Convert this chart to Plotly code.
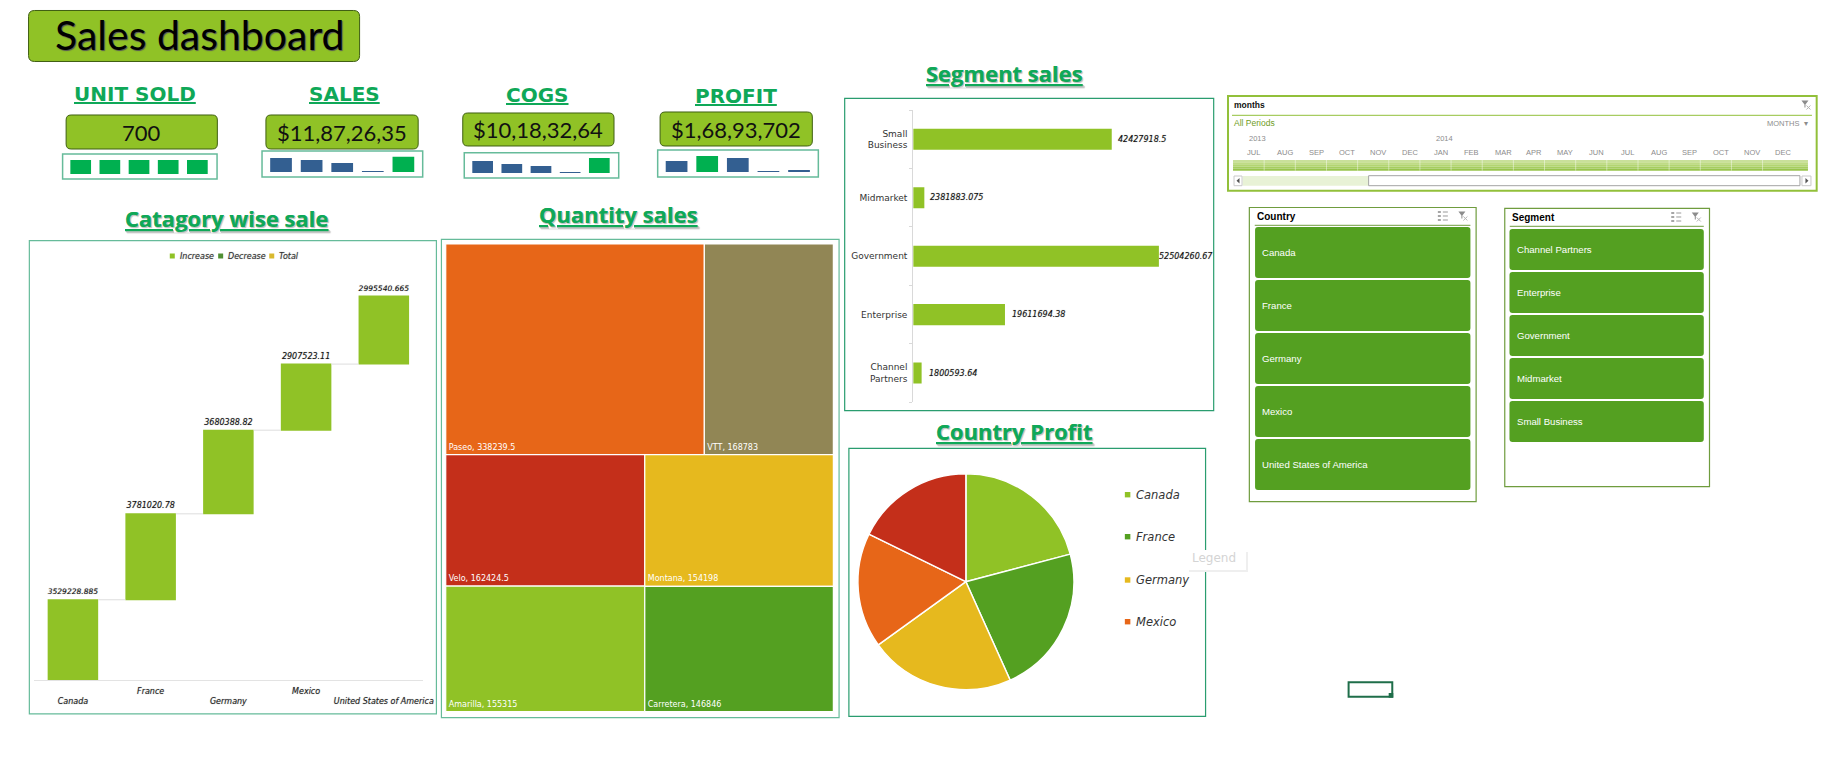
import plotly.graph_objects as go

W, H = 1844, 773
SX = 1830  # horizontal extent of the paper as it lands in the photographed page

# ---- data ----
COUNTRIES = ["Canada", "France", "Germany", "Mexico", "United States of America"]
COUNTRY_TICKS = ["<br>Canada", "France", "<br>Germany", "Mexico", "<br>United States of America"]
COUNTRY_SALES = [3529228.885, 3781020.78, 3680388.82, 2907523.11, 2995540.665]

SEGMENTS = ["Small Business", "Midmarket", "Government", "Enterprise", "Channel Partners"]
SEGMENT_TICKS = ["Small<br>Business", "Midmarket", "Government", "Enterprise", "Channel<br>Partners"]
SEGMENT_SALES = [42427918.5, 2381883.075, 52504260.67, 19611694.38, 1800593.64]
SEGMENT_SLICER = ["Channel Partners", "Enterprise", "Government", "Midmarket", "Small Business"]

PRODUCTS = ["Paseo", "VTT", "Velo", "Amarilla", "Montana", "Carretera"]
PRODUCT_UNITS = [338239.5, 168783, 162424.5, 155315, 154198, 146846]

KPI_TITLES = ["UNIT SOLD", "SALES", "COGS", "PROFIT"]
KPI_VALUES = ["700", "$11,87,26,35", "$10,18,32,64", "$1,68,93,702"]
MINI_UNITS = [42, 42, 42, 42, 42]
MINI_SALES = [42, 36, 27, 2, 46]
MINI_COGS = [36, 27, 21, 3, 45]
MINI_PROFIT = [33, 48, 42, 3, 6]

MONTHS = ["JUL", "AUG", "SEP", "OCT", "NOV", "DEC", "JAN", "FEB", "MAR", "APR", "MAY", "JUN",
          "JUL", "AUG", "SEP", "OCT", "NOV", "DEC"]

# ---- styles ----
LIME, GREEN, GOLD, ORANGE, RED, OLIVE = "#90c226", "#54a021", "#e6b91e", "#e76618", "#c42f1a", "#918655"
KPI_GREEN, KPI_BLUE = "#00b050", "#335f91"
FRAME = "#66bb9a"
TITLE = "#0fa858"
SANS = "DejaVu Sans"
HEAD = "Open Sans"
UI = "Liberation Sans"


def X(p): return p / SX
def Y(p): return 1 - p / H


shapes, ann = [], []


def rect(x0, y0, x1, y1, line=None, fill=None, lw=1, layer="below"):
    shapes.append(dict(type="rect", xref="paper", yref="paper", x0=X(x0), x1=X(x1), y0=Y(y0), y1=Y(y1),
                       line=dict(color=line or "rgba(0,0,0,0)", width=lw if line else 0),
                       fillcolor=fill or "rgba(0,0,0,0)", layer=layer))


def path(pts, line=None, fill=None, lw=1, close=True, layer="above"):
    d = "M" + " L".join(f"{X(a):.5f},{Y(b):.5f}" for a, b in pts) + (" Z" if close else "")
    shapes.append(dict(type="path", xref="paper", yref="paper", path=d,
                       line=dict(color=line or "rgba(0,0,0,0)", width=lw if line else 0),
                       fillcolor=fill or "rgba(0,0,0,0)", layer=layer))


def rrect(x0, y0, x1, y1, r, fill, line=None, lw=1, layer="below"):
    p = (f"M{X(x0+r):.5f},{Y(y0):.5f} L{X(x1-r):.5f},{Y(y0):.5f} Q{X(x1):.5f},{Y(y0):.5f} {X(x1):.5f},{Y(y0+r):.5f} "
         f"L{X(x1):.5f},{Y(y1-r):.5f} Q{X(x1):.5f},{Y(y1):.5f} {X(x1-r):.5f},{Y(y1):.5f} "
         f"L{X(x0+r):.5f},{Y(y1):.5f} Q{X(x0):.5f},{Y(y1):.5f} {X(x0):.5f},{Y(y1-r):.5f} "
         f"L{X(x0):.5f},{Y(y0+r):.5f} Q{X(x0):.5f},{Y(y0):.5f} {X(x0+r):.5f},{Y(y0):.5f} Z")
    shapes.append(dict(type="path", xref="paper", yref="paper", path=p,
                       line=dict(color=line or "rgba(0,0,0,0)", width=lw if line else 0),
                       fillcolor=fill, layer=layer))


def text(x, y, s, size, color="#000", family=SANS, anchor="center", **font):
    ann.append(dict(xref="paper", yref="paper", x=X(x), y=Y(y), text=s, showarrow=False,
                    xanchor=anchor, yanchor="middle", borderpad=0,
                    font=dict(size=size, color=color, family=family, **font)))


def heading(x, y, s, size):
    text(x, y, s, size, TITLE, HEAD, weight=700, lineposition="under", shadow="1px 1px 1px #c4c4c4")


def funnel(cx, cy):
    path([(cx-4, cy-4), (cx+3, cy-4), (cx, cy), (cx, cy+3), (cx-1, cy+3), (cx-1, cy)], fill="#8c8c8c")
    path([(cx+1, cy+1), (cx+5, cy+5)], line="#b5b5b5", lw=1, close=False)
    path([(cx+5, cy+1), (cx+1, cy+5)], line="#b5b5b5", lw=1, close=False)


def multiselect(cx, cy):
    for dy in (-4, 0, 4):
        rect(cx-5, cy+dy-1, cx-2, cy+dy+1, fill="#a6a6a6", layer="above")
        path([(cx, cy+dy), (cx+5, cy+dy)], line="#9a9a9a", lw=1, close=False)


fig = go.Figure()
axes = {}
n_ax = 0


def new_axes(x0, x1, ytop, ybottom, xa, ya):
    global n_ax
    n_ax += 1
    sfx = "" if n_ax == 1 else str(n_ax)
    axes["xaxis" + sfx] = dict(domain=[X(x0), X(x1)], anchor="y" + sfx, **xa)
    axes["yaxis" + sfx] = dict(domain=[Y(ybottom), Y(ytop)], anchor="x" + sfx, **ya)
    return "x" + sfx, "y" + sfx


# ---- header ----
rrect(28.5, 10.5, 359, 61.5, 6, LIME, "#3f5f12", 1)
text(200, 34, "Sales dashboard", 41, "#000", "Lato", shadow="1px 1px 1px #555")

# ---- KPI cards ----
kpi_title_xy = [(134.5, 94), (344, 94), (536.5, 95), (735, 95.7)]
kpi_box = [(66, 115, 217, 149), (265.5, 115, 417.5, 149), (462, 113, 613, 146), (659, 112, 811, 146)]
kpi_frame = [(62.5, 154, 216.7, 179), (261.6, 151, 422, 177), (463.5, 152.7, 617.7, 178), (656.6, 150, 817, 177)]
kpi_plot = [(66, 211.6, 174), (265.3, 418, 172), (467.3, 612.9, 173), (660.2, 813, 172)]
kpi_series = [MINI_UNITS, MINI_SALES, MINI_COGS, MINI_PROFIT]
kpi_colors = [[KPI_GREEN]*5,
              [KPI_BLUE, KPI_BLUE, KPI_BLUE, KPI_BLUE, KPI_GREEN],
              [KPI_BLUE, KPI_BLUE, KPI_BLUE, KPI_BLUE, KPI_GREEN],
              [KPI_BLUE, KPI_GREEN, KPI_BLUE, KPI_BLUE, KPI_BLUE]]
for i in range(4):
    tx, ty = kpi_title_xy[i]
    text(tx, ty, KPI_TITLES[i], 20, TITLE, SANS, weight=700, lineposition="under")
    x0, y0, x1, y1 = kpi_box[i]
    rrect(x0, y0, x1, y1, 5, LIME, "#3f5f12", 1)
    text((x0+x1)/2, (y0+y1)/2, KPI_VALUES[i], 22, "#111", "Lato")
    fx0, fy0, fx1, fy1 = kpi_frame[i]
    rect(fx0, fy0, fx1, fy1, FRAME, "#ffffff", 1.5)
    px0, px1, base = kpi_plot[i]
    ax_x, ax_y = new_axes(px0, px1, base-16, base, dict(visible=False, type="category"),
                          dict(visible=False, range=[0, 48]))
    fig.add_trace(go.Bar(x=[1, 2, 3, 4, 5], y=kpi_series[i], marker=dict(color=kpi_colors[i], line_width=0),
                         xaxis=ax_x, yaxis=ax_y, width=0.71, showlegend=False, hoverinfo="skip"))

# ---- waterfall ----
heading(227, 218, "Catagory wise sale", 22)
rect(29.3, 240.6, 435.7, 713.9, FRAME, "#ffffff", 1.2)
wf_scale = 43994
ax_x, ax_y = new_axes(34, 422, 260, 680,
                      dict(type="category", showline=True, linecolor="#e3e3e3", linewidth=1, ticks="", ticklabelstandoff=3,
                           tickmode="array", tickvals=COUNTRIES, ticktext=COUNTRY_TICKS,
                           tickfont=dict(size=8, family=SANS, style="italic", color="#222", shadow="0 0 1px #999"),
                           showgrid=False, tickangle=0),
                      dict(visible=False, range=[0, (680-260)*wf_scale], showgrid=False))
fig.add_trace(go.Waterfall(x=COUNTRIES, y=COUNTRY_SALES, measure=["relative"]*5,
                           increasing=dict(marker=dict(color=LIME, line_width=0)),
                           text=[str(v) for v in COUNTRY_SALES], textposition="outside",
                           textfont=dict(size=8, family=SANS, style="italic", color="#111", shadow="0 0 1px #999"),
                           cliponaxis=False,
                           connector=dict(line=dict(color="#dddddd", width=1)), width=0.65,
                           xaxis=ax_x, yaxis=ax_y, showlegend=False, hoverinfo="skip"))
for mx, tx, lab, col in [(172, 178.7, "Increase", LIME), (220.3, 226.7, "Decrease", "#4f8f33"), (271.3, 278, "Total", "#d9b92e")]:
    rect(mx-2.5, 253.5, mx+2.5, 258.5, fill=col, layer="above")
    text(tx, 256.3, lab, 8, "#333", SANS, anchor="left", style="italic", shadow="0 0 1px #999")

# ---- treemap ----
heading(617, 214, "Quantity sales", 22)
rect(440.7, 239.3, 837.7, 717.7, FRAME, "#ffffff", 1.2)
ids = ["root", "all", "top", "bottom", "left", "right"] + PRODUCTS
parents = ["", "root", "all", "all", "bottom", "bottom", "top", "top", "left", "left", "right", "right"]
labels = [""]*6 + PRODUCTS
tile_colors = ["#ffffff"]*6 + [ORANGE, OLIVE, RED, LIME, GOLD, GREEN]
values = [0]*6 + PRODUCT_UNITS
tile_text = [""]*6 + [f"{p}, {v}" for p, v in zip(PRODUCTS, PRODUCT_UNITS)]
fig.add_trace(go.Treemap(ids=ids, labels=labels, parents=parents, values=values, text=tile_text,
                         texttemplate="%{text}", textposition="bottom left", sort=False,
                         marker=dict(colors=tile_colors, line=dict(color="#ffffff", width=1.2),
                                     pad=dict(t=0, l=0, r=0, b=0)),
                         tiling=dict(packing="slice-dice", pad=0), pathbar=dict(visible=False),
                         textfont=dict(size=8, family=SANS, color="#ffffff"),
                         domain=dict(x=[X(445), X(832)], y=[Y(711.7), Y(244)]), hoverinfo="skip"))

# ---- segment bars ----
heading(1002.7, 73, "Segment sales", 22)
rect(843.3, 98.3, 1211.7, 410.7, "#2a9d6f", "#ffffff", 1.2)
seg_scale = 214043
ax_x, ax_y = new_axes(911.7, 1200, 110, 402.3,
                      dict(visible=False, range=[0, (1200-911.7)*seg_scale]),
                      dict(type="category", autorange="reversed", showline=True, linecolor="#d9d9d9", linewidth=1,
                           ticks="outside", ticklen=3, tickcolor="#d9d9d9", tickson="boundaries", showgrid=False,
                           tickmode="array", tickvals=SEGMENTS, ticktext=SEGMENT_TICKS, ticklabelstandoff=3,
                           tickfont=dict(size=9, family=SANS, color="#333")))
fig.add_trace(go.Bar(y=SEGMENTS, x=SEGMENT_SALES, orientation="h", marker=dict(color=LIME, line_width=0), width=0.36,
                     xaxis=ax_x, yaxis=ax_y, showlegend=False, hoverinfo="skip"))
seg_shift = [5, 5, -1, 6, 6]
for s, v, dx in zip(SEGMENTS, SEGMENT_SALES, seg_shift):
    ann.append(dict(xref=ax_x, yref=ax_y, x=v, y=s, text=str(v), showarrow=False, xanchor="left", xshift=dx, borderpad=0,
                    font=dict(size=8, family=SANS, style="italic", color="#111", shadow="0 0 1px #999")))

# ---- pie ----
heading(1013.2, 431, "Country Profit", 22)
rect(847.5, 448.3, 1203.6, 716.3, "#2a9d6f", "#ffffff", 1.2)
pie_colors = [LIME, GREEN, GOLD, ORANGE, RED]
fig.add_trace(go.Pie(labels=COUNTRIES, values=COUNTRY_SALES, sort=False, direction="clockwise", rotation=0,
                     marker=dict(colors=pie_colors, line=dict(color="#ffffff", width=1.5)), textinfo="none",
                     showlegend=False, hoverinfo="skip",
                     domain=dict(x=[X(964.3-108), X(964.3+108)], y=[Y(581.7+108), Y(581.7-108)])))
for c, col, y in zip(COUNTRIES[:4], pie_colors[:4], [494.7, 536.7, 580, 621.7]):
    rect(1123, y-2.7, 1128.5, y+2.7, fill=col, layer="above")
    text(1133, y, c, 11.5, "#333", SANS, anchor="left", style="italic")
# ghost legend element
rect(1187, 552, 1246, 572, fill="#efefef", layer="above")
rect(1185, 550, 1244, 570, fill="#ffffff", layer="above")
text(1212, 558, "Legend", 12, "#d4d4d4", SANS)

# ---- timeline ----
rect(1226, 96, 1813.7, 190.7, "#92c03a", "#ffffff", 2)
text(1231, 105.3, "months", 8.5, "#111", UI, anchor="left", weight=700)
path([(1230, 115.3), (1809, 115.3)], line="#92c03a", lw=1, close=False, layer="below")
funnel(1802.5, 104.5)
text(1231, 123.3, "All Periods", 8.5, "#6f9c24", UI, anchor="left")
text(1806, 123.3, "MONTHS  ▾", 7.5, "#8c8c8c", UI, anchor="right")
text(1245.9, 138.7, "2013", 7.5, "#8c8c8c", UI, anchor="left")
text(1433, 138.7, "2014", 7.5, "#8c8c8c", UI, anchor="left")
for i, m in enumerate(MONTHS):
    text(1251.8 + i*31.1, 152.7, m, 7.5, "#8c8c8c", UI)
for i, col in enumerate(["#c9e09a", "#bfdb85", "#b3d572", "#a6cd5f", "#98c44c"]):
    rect(1231, 160 + i*2.14, 1805, 160 + (i+1)*2.14, fill=col, layer="below")
for i in range(1, 18):
    xs = 1231 + i*31.1
    path([(xs, 160), (xs, 170.7)], line="rgba(255,255,255,0.45)", lw=1, close=False, layer="above")
rect(1240.7, 176, 1366.4, 185.7, fill="#e8f2d6")
rect(1366.4, 175.7, 1797, 185.7, "#a3a3a3", "#ffffff", 1)
rect(1232, 176, 1240, 185.7, "#c9c9c9", "#ffffff", 1)
rect(1799, 176, 1808, 185.7, "#c9c9c9", "#ffffff", 1)
path([(1237.5, 178), (1237.5, 183.5), (1234.5, 180.8)], fill="#555555")
path([(1802.5, 178), (1802.5, 183.5), (1805.5, 180.8)], fill="#555555")

# ---- slicers ----
rect(1247.3, 207.5, 1473.7, 501.7, "#6f9c3e", "#ffffff", 1.2)
text(1253.7, 216.7, "Country", 10, "#000", UI, anchor="left", weight=700)
path([(1252.7, 225.3), (1468, 225.3)], line="#6f9c3e", lw=1, close=False, layer="below")
multiselect(1440.5, 216)
funnel(1460, 215.5)
for i, c in enumerate(COUNTRIES):
    y0 = 227 + i*53
    rrect(1253, y0, 1468, y0+51, 3, GREEN)
    text(1259.3, y0+25.5, c, 9.6, "#ffffff", UI, anchor="left")

rect(1502.3, 208.3, 1706.7, 486.7, "#6f9c3e", "#ffffff", 1.2)
text(1508.7, 217.7, "Segment", 10, "#000", UI, anchor="left", weight=700)
path([(1507.3, 226.3), (1701, 226.3)], line="#6f9c3e", lw=1, close=False, layer="below")
multiselect(1673.5, 217)
funnel(1693, 216.5)
for i, s in enumerate(SEGMENT_SLICER):
    y0 = 229 + i*43
    rrect(1507, y0, 1701, y0+41, 3, GREEN)
    text(1513.3, y0+20.5, s, 9.6, "#ffffff", UI, anchor="left")

# ---- active cell ----
rect(1346.4, 682.3, 1390, 696.7, "#1f6e4a", None, 2, layer="above")
rect(1386.4, 693, 1391, 697.7, fill="#1f6e4a", layer="above")

fig.update_layout(width=W, height=H, margin=dict(l=0, r=0, t=0, b=0, pad=0), paper_bgcolor="#ffffff",
                  plot_bgcolor="rgba(0,0,0,0)", shapes=shapes, annotations=ann, bargap=0.29, **axes)

fig.write_html("out.html", config={"displayModeBar": False},
               post_script="document.body.style.margin='0';document.body.style.overflow='hidden';")
